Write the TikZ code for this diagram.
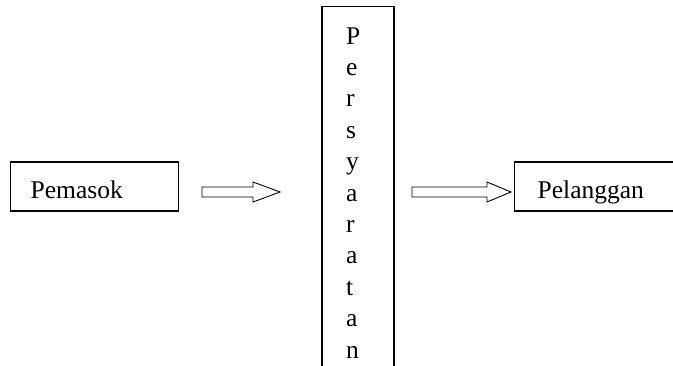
\documentclass[tikz,border=0pt]{standalone}
\usepackage{fontspec}
\setmainfont{Liberation Serif}
\begin{document}
\begin{tikzpicture}[x=1pt,y=-1pt,
  boxline/.style={draw=black, line width=1.4pt},
  labelbox/.style={boxline, minimum height=49pt, inner xsep=20pt, inner ysep=0pt, align=left, anchor=west,
     text height=34pt, text depth=10pt,
     font=\fontsize{25.5}{30.8}\selectfont},
  blockarrow/.style={draw=black, line width=0.9pt, line join=miter, fill=white}]
\useasboundingbox (0,0) rectangle (673,365);
\clip (0,0) rectangle (673,365);
\node[labelbox, text width=128pt] (pemasok) at (10,186.5) {Pemasok};
\node[labelbox, inner xsep=23pt, text width=140pt] (pelanggan) at (514,186.5) {Pelanggan};
\node[boxline, minimum width=72pt, minimum height=380pt, anchor=north, inner sep=0pt] (persyaratan) at (358,6) {};
\node[anchor=north west, inner sep=0pt, align=left, font=\fontsize{25.5}{31.4}\selectfont] (letters) at (346,27.2)
  {P\\e\\r\\s\\y\\a\\r\\a\\t\\a\\n};
\draw[blockarrow] (202,187) -- (253,187) -- (253,182) -- (280,192) -- (253,202) -- (253,197) -- (202,197) -- cycle;
\draw[blockarrow] (412,187) -- (487,187) -- (487,182) -- (511,192) -- (487,202) -- (487,197) -- (412,197) -- cycle;
\end{tikzpicture}
\end{document}
